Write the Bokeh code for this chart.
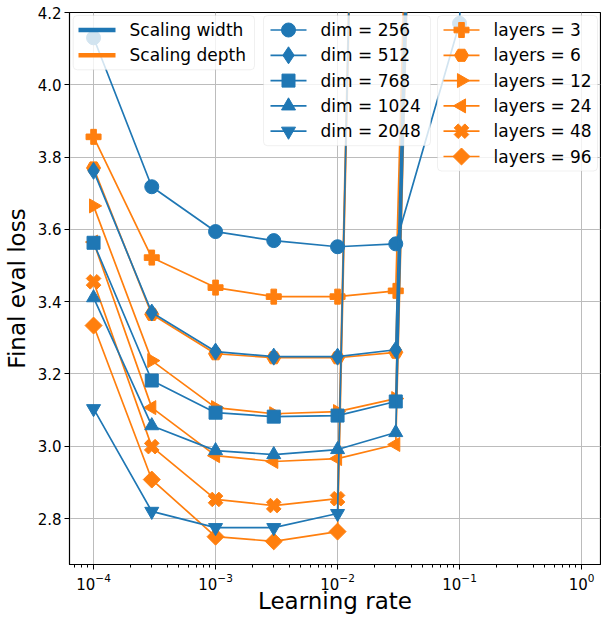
import math
from bokeh.plotting import figure
from bokeh.models import (FixedTicker, NumeralTickFormatter, LogTicker, Range1d,
                          LinearScale, BoxAnnotation)
from bokeh.core.properties import value
from bokeh.embed import file_html
from bokeh.resources import INLINE

# learning rates swept
lr = [1e-4, 3e-4, 1e-3, 3e-3, 1e-2, 3e-2, 1e-1, 3e-1]

# final eval loss, width sweep (diverged runs go off the top)
dim_256 = [4.13, 3.718, 3.594, 3.569, 3.552, 3.56, 4.17, 10.0]
dim_512 = [3.762, 3.37, 3.262, 3.248, 3.248, 3.267, 10.0]
dim_768 = [3.563, 3.182, 3.093, 3.082, 3.085, 3.124, 10.0]
dim_1024 = [3.411, 3.057, 2.988, 2.977, 2.991, 3.038, 10.0]
dim_2048 = [3.104, 2.82, 2.775, 2.775, 2.814, 10.0]

# final eval loss, depth sweep
layers_3 = [3.856, 3.522, 3.439, 3.414, 3.414, 3.43, 10.0]
layers_6 = [3.77, 3.365, 3.256, 3.245, 3.245, 3.26, 10.0]
layers_12 = [3.665, 3.237, 3.107, 3.09, 3.096, 3.132, 10.0]
layers_24 = [3.565, 3.107, 2.974, 2.958, 2.966, 3.005, 10.0]
layers_48 = [3.455, 2.999, 2.853, 2.836, 2.855, 10.0]
layers_96 = [3.334, 2.908, 2.75, 2.737, 2.764, 10.0]

width_labels = ["dim = 256", "dim = 512", "dim = 768", "dim = 1024", "dim = 2048"]
depth_labels = ["layers = 3", "layers = 6", "layers = 12", "layers = 24", "layers = 48", "layers = 96"]
key_labels = ["Scaling width", "Scaling depth"]
y_ticks = [2.8, 3.0, 3.2, 3.4, 3.6, 3.8, 4.0, 4.2]

BLUE = "#1f77b4"
ORANGE = "#ff7f0e"
FONT = "DejaVu Sans"
FRAME_W, FRAME_H = 531, 552

p = figure(
    frame_width=FRAME_W, frame_height=FRAME_H,
    x_axis_type="log",
    x_range=(6.35e-5, 1.43), y_range=(2.673, 4.2),
    output_backend="svg", toolbar_location=None,
    min_border_left=69, min_border_right=1, min_border_top=12, min_border_bottom=40,
)
p.outline_line_color = "black"
p.outline_line_width = 1.2
p.background_fill_color = "white"
p.border_fill_color = "white"

for ax in (p.xaxis[0], p.yaxis[0]):
    ax.major_label_text_font = FONT
    ax.major_label_text_font_size = "15px"
    ax.major_label_text_color = "black"
    ax.axis_label_text_font = FONT
    ax.axis_label_text_font_size = "23px"
    ax.axis_label_text_font_style = "normal"
    ax.axis_label_text_color = "black"
    ax.major_label_standoff = 3
    ax.major_tick_in = 0
    ax.major_tick_out = 5
    ax.minor_tick_in = 0
    ax.minor_tick_out = 3
    ax.axis_line_color = "black"
    ax.major_tick_line_color = "black"
    ax.minor_tick_line_color = "black"

p.xaxis.axis_label = "Learning rate"
p.yaxis.axis_label = "Final eval loss"
p.xaxis.axis_label_standoff = -5
p.yaxis.axis_label_standoff = 5
p.xaxis.ticker = LogTicker(desired_num_ticks=5, num_minor_ticks=10)
p.yaxis.ticker = FixedTicker(ticks=y_ticks)
p.yaxis.formatter = NumeralTickFormatter(format="0.0")
p.yaxis.minor_tick_line_color = None

p.xgrid.grid_line_color = "#bcbcbc"
p.ygrid.grid_line_color = "#bcbcbc"
p.xgrid.grid_line_width = 1
p.ygrid.grid_line_width = 1

# pixel-like coordinate system over the frame, used to lay out the legends
p.extra_x_ranges = {"lx": Range1d(0, FRAME_W)}
p.extra_y_ranges = {"ly": Range1d(0, FRAME_H)}
p.extra_x_scales = {"lx": LinearScale()}
p.extra_y_scales = {"ly": LinearScale()}

# marker style for each series: (marker, size, angle)
width_styles = [
    ("circle", 14, 0),
    ("diamond", 17, 0),
    ("square", 13, 0),
    ("triangle", 14, 0),
    ("inverted_triangle", 14, 0),
]
depth_styles = [
    ("plus", 15, 0),
    ("hex", 14, 0),
    ("triangle", 14, -math.pi / 2),
    ("triangle", 14, math.pi / 2),
    ("plus", 15, math.pi / 4),
    ("square", 12, math.pi / 4),
]
width_series = [dim_256, dim_512, dim_768, dim_1024, dim_2048]
depth_series = [layers_3, layers_6, layers_12, layers_24, layers_48, layers_96]


def draw(values, style, color):
    marker, size, angle = style
    xs = lr[:len(values)]
    p.line(xs, values, line_color=color, line_width=1.7)
    p.scatter(xs, values, marker=marker, size=size, angle=angle,
              fill_color=color, line_color=color)


for vals, style in zip(depth_series, depth_styles):
    draw(vals, style, ORANGE)
for vals, style in zip(width_series, width_styles):
    draw(vals, style, BLUE)

# ---- legends (frame-pixel coordinates, y measured from the frame bottom) ----
ROW0, ROW_STEP = 14.5, 25.3   # first row centre below box top, row pitch
LEG_TOP = FRAME_H - 3.0
LX = dict(x_range_name="lx", y_range_name="ly", level="overlay")


def legend_box(left, right, n_rows):
    bottom = LEG_TOP - (ROW0 + ROW_STEP * (n_rows - 1) + 14.5)
    p.add_layout(BoxAnnotation(
        left=left, right=right, top=LEG_TOP, bottom=bottom,
        x_range_name="lx", y_range_name="ly",
        fill_color="white", fill_alpha=0.8,
        line_color="#cccccc", line_width=1, border_radius=4, level="annotation"))


def legend_rows(labels, colors, styles, line_x0, line_len, text_x, line_width):
    n = len(labels)
    ys = [LEG_TOP - ROW0 - ROW_STEP * i for i in range(n)]
    p.segment(x0=[line_x0] * n, x1=[line_x0 + line_len] * n, y0=ys, y1=ys,
              line_color=colors, line_width=line_width, **LX)
    if styles is not None:
        for y, c, (marker, size, angle) in zip(ys, colors, styles):
            p.scatter([line_x0 + line_len / 2], [y], marker=marker, size=size,
                      angle=angle, fill_color=c, line_color=c, **LX)
    p.text([text_x] * n, ys, text=labels, text_font=value(FONT),
           text_font_size="17px", text_baseline="middle", text_align="left",
           text_color="black", **LX)


legend_box(3.7, 185, 2)
legend_rows(key_labels, [BLUE, ORANGE], None, 9, 37, 60, 4.5)

legend_box(194, 361, 5)
legend_rows(width_labels, [BLUE] * 5, width_styles, 201, 36, 251, 1.7)

legend_box(368, 528, 6)
legend_rows(depth_labels, [ORANGE] * 6, depth_styles, 374, 36, 424, 1.7)

open("out.html", "w").write(file_html(p, INLINE))
